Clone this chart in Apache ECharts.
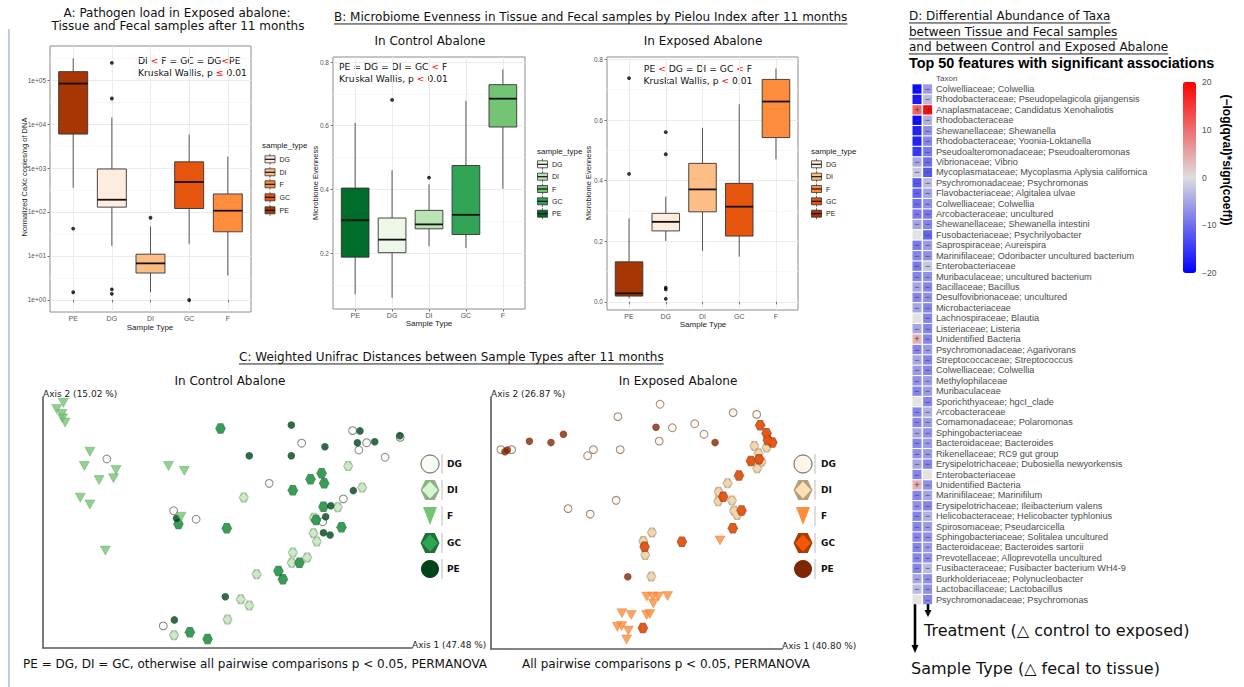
<!DOCTYPE html>
<html>
<head>
<meta charset="utf-8">
<title>Abalone pathogen load, microbiome evenness, Unifrac and differential abundance</title>
<script src="https://cdn.jsdelivr.net/npm/echarts@6/dist/echarts.min.js"></script>
<style>
  html, body { margin: 0; padding: 0; background: #ffffff; }
  #chart { width: 1244px; height: 687px; }
</style>
</head>
<body>
<div id="chart"></div>
<script>
// ---------- categories ----------
const sampleTypes = ['PE', 'DG', 'DI', 'GC', 'F'];
const legendOrder = ['DG', 'DI', 'F', 'GC', 'PE'];

// ---------- A: pathogen load (CaXc copies / ng DNA) ----------
// five-number summaries per sample type: [low whisker, Q1, median, Q3, high whisker]
const pathogenBoxes = [
  [355, 5900, 83000, 155000, 309000],  // PE
  [17, 129, 190, 950, 14000],          // DG
  [1.5, 4.1, 6.8, 11, 47],             // DI
  [18.6, 120, 480, 1380, 5750],        // GC
  [3.6, 35.5, 107, 257, 1820]          // F
];
const pathogenOutliers = [['PE', 42], ['PE', 1.5], ['DG', 245000], ['DG', 38000], ['DG', 1.75], ['DG', 1.38], ['DI', 74], ['GC', 1.0]];
const pathogenTicks = [1, 10, 100, 1000, 10000, 100000];
const pathogenTickLabels = ['1e+00', '1e+01', '1e+02', '1e+03', '1e+04', '1e+05'];

// ---------- B: Pielou evenness ----------
const evenControlBoxes = [
  [0.070, 0.187, 0.303, 0.404, 0.609],  // PE
  [0.059, 0.201, 0.242, 0.310, 0.460],  // DG
  [0.221, 0.276, 0.290, 0.334, 0.416],  // DI
  [0.216, 0.258, 0.320, 0.475, 0.678],  // GC
  [0.402, 0.596, 0.685, 0.729, 0.777]   // F
];
const evenControlOutliers = [['DG', 0.681], ['DI', 0.437]];
const evenExposedBoxes = [
  [0.012, 0.019, 0.028, 0.132, 0.275],  // PE
  [0.201, 0.234, 0.264, 0.292, 0.347],  // DG
  [0.168, 0.297, 0.371, 0.457, 0.574],  // DI
  [0.149, 0.217, 0.314, 0.391, 0.652],  // GC
  [0.470, 0.542, 0.661, 0.734, 0.770]   // F
];
const evenExposedOutliers = [['PE', 0.738], ['PE', 0.422], ['DG', 0.560], ['DG', 0.487], ['DG', 0.047], ['DG', 0.041], ['DG', 0.010]];
const evenTicksControl = [0.2, 0.4, 0.6, 0.8];
const evenTicksExposed = [0.0, 0.2, 0.4, 0.6, 0.8];

// ---------- C: weighted Unifrac PCoA (axis units scaled 0-100) ----------
const controlDG = [[17.3,75.3],[70.1,81.6],[61.3,65.6],[35.4,54.7],[41.5,51.3],[83.9,86.6],[87.7,81.8],[85.6,78.9],[92.7,76.0],[96.8,83.9],[81.4,59.4],[75.8,50.3],[32.6,8.8]];
const controlDI = [[82.7,72.5],[86.5,63.9],[54.4,60.0],[79.9,56.1],[73.4,51.9],[73.3,45.7],[74.2,42.4],[67.7,38.0],[71.6,36.1],[67.4,34.0],[57.9,29.4],[53.6,19.4],[55.9,16.9],[50.0,11.4],[35.5,5.1]];
const controlF  = [[3.7,95.2],[5.5,97.7],[5.1,93.2],[5.3,91.5],[6.0,89.8],[12.7,78.2],[11.2,72.5],[19.8,70.9],[15.2,66.9],[19.1,67.6],[10.1,59.9],[12.7,57.2],[16.9,38.8],[34.0,72.5],[38.3,70.6],[37.4,52.3]];
const controlGC = [[48.1,87.5],[75.5,69.6],[72.5,67.2],[76.2,65.6],[67.7,62.8],[76.0,56.3],[49.8,47.7],[36.7,49.4],[80.9,48.1],[74.0,51.0],[69.5,34.0],[63.8,30.7],[65.0,27.4],[39.8,6.3],[44.6,3.6]];
const controlPE = [[67.3,88.8],[55.9,76.6],[67.3,76.6],[76.4,80.2],[85.9,86.5],[85.2,81.8],[89.9,82.2],[96.7,84.6],[84.1,62.7],[78.0,56.7],[76.6,52.3],[76.0,45.9],[77.8,45.0],[36.2,51.7],[49.4,20.4],[35.6,11.2]];

const exposedDG = [[58.1,97.1],[83.2,93.8],[91.3,93.1],[43.6,92.2],[62.3,87.8],[70.0,89.4],[73.2,85.2],[57.8,82.5],[35.2,79.1],[33.2,76.7],[44.4,79.1],[3.4,79.1],[7.1,79.1],[43.0,59.0],[26.5,55.7],[34.1,53.5]];
const exposedDI = [[90.5,80.6],[91.9,77.7],[94.7,80.0],[93.0,74.3],[91.5,71.7],[81.3,65.8],[78.2,62.4],[78.1,58.6],[82.8,58.9],[83.5,54.9],[84.6,53.2],[55.3,46.2],[52.3,42.9],[53.0,37.3],[55.1,28.8]];
const exposedF  = [[78.7,43.1],[53.5,20.8],[55.6,20.8],[57.5,20.8],[60.7,21.0],[55.8,18.1],[45.0,14.2],[48.2,13.5],[53.5,13.5],[54.6,13.9],[43.4,8.8],[44.9,9.1],[47.2,7.3],[46.6,3.8]];
const exposedGC = [[92.5,88.8],[94.7,85.6],[95.1,82.9],[96.7,81.9],[89.3,74.6],[92.1,75.3],[85.2,68.8],[79.8,60.4],[86.1,55.0],[83.1,47.9],[65.6,42.6],[52.8,40.6],[52.2,8.3]];
const exposedPE = [[4.8,78.3],[5.6,79.0],[13.2,82.4],[20.6,81.9],[24.9,85.2],[56.7,88.0],[77.0,81.9],[47.0,28.7]];

// ---------- D: MaAsLin-style associations, -log(qval)*sign(coeff) ----------
const taxa = [
  'Colwelliaceae; Colwellia',
  'Rhodobacteraceae; Pseudopelagicola gijangensis',
  'Anaplasmataceae; Candidatus Xenohaliotis',
  'Rhodobacteraceae',
  'Shewanellaceae; Shewanella',
  'Rhodobacteraceae; Yoonia-Loktanella',
  'Pseudoalteromonadaceae; Pseudoalteromonas',
  'Vibrionaceae; Vibrio',
  'Mycoplasmataceae; Mycoplasma Aplysia californica',
  'Psychromonadaceae; Psychromonas',
  'Flavobacteriaceae; Algitalea ulvae',
  'Colwelliaceae; Colwellia',
  'Arcobacteraceae; uncultured',
  'Shewanellaceae; Shewanella intestini',
  'Fusobacteriaceae; Psychrilyobacter',
  'Saprospiraceae; Aureispira',
  'Marinifilaceae; Odoribacter uncultured bacterium',
  'Enterobacteriaceae',
  'Muribaculaceae; uncultured bacterium',
  'Bacillaceae; Bacillus',
  'Desulfovibrionaceae; uncultured',
  'Microbacteriaceae',
  'Lachnospiraceae; Blautia',
  'Listeriaceae; Listeria',
  'Unidentified Bacteria',
  'Psychromonadaceae; Agarivorans',
  'Streptococcaceae; Streptococcus',
  'Colwelliaceae; Colwellia',
  'Methylophilaceae',
  'Muribaculaceae',
  'Sporichthyaceae; hgcI_clade',
  'Arcobacteraceae',
  'Comamonadaceae; Polaromonas',
  'Sphingobacteriaceae',
  'Bacteroidaceae; Bacteroides',
  'Rikenellaceae; RC9 gut group',
  'Erysipelotrichaceae; Dubosiella newyorkensis',
  'Enterobacteriaceae',
  'Unidentified Bacteria',
  'Marinifilaceae; Marinifilum',
  'Erysipelotrichaceae; Ileibacterium valens',
  'Helicobacteraceae; Helicobacter typhlonius',
  'Spirosomaceae; Pseudarcicella',
  'Sphingobacteriaceae; Solitalea uncultured',
  'Bacteroidaceae; Bacteroides sartorii',
  'Prevotellaceae; Alloprevotella uncultured',
  'Fusibacteraceae; Fusibacter bacterium WH4-9',
  'Burkholderiaceae; Polynucleobacter',
  'Lactobacillaceae; Lactobacillus',
  'Psychromonadaceae; Psychromonas'
];
const effectColumns = ['Sample Type', 'Treatment'];
// null = not significant for that factor
const sampleTypeEffect = [-19, -18, 11, -19, -17, -17, -15, -5, -2, -12, -11, -10, -9, -5, null, -9, -8, -9, -8, -5,
  -8, -5, null, -5, 4, -8, -5, -6, -7, -8, null, -8, -8, -5, -8, -7, -5, -8, 4, -8,
  -7, -8, -8, -8, -8, -8, -8, -5, -3, null];
const treatmentEffect = [-6, -3, 19, -4, -7, -8, -9, -10, -12, -3, -5, -7, -9, -8, -11, -6, -7, -2, -7, -8,
  -7, -8, -8, -8, -8, -6, -8, -8, -6, -6, -8, -4, -6, -7, -6, -6, -8, null, -7, -5,
  -8, -4, -6, -7, -6, -7, -3, -7, -7, -8];
const colorbarTicks = [-20, -10, 0, 10, 20];

// ---------- palettes ----------
const oranges = { DG: '#FEEDDE', DI: '#FDBE85', F: '#FD8D3C', GC: '#E6550D', PE: '#A63603' };
const greens  = { DG: '#EDF8E9', DI: '#BAE4B3', F: '#74C476', GC: '#31A354', PE: '#006D2C' };
const pcoaGreens = { DG: '#F7FCF5', DGline: '#6a6a6a', DIouter: '#8FAE8A', DIinner: '#D6F5D0', F: '#74C476', Fline: '#5a9e5c',
  GCouter: '#1D7236', GCinner: '#31A354', PE: '#00441B' };
const pcoaOranges = { DG: '#FFF5EB', DGline: '#7e6e5e', DIouter: '#B69E7C', DIinner: '#FDE0B4', F: '#FD8D3C', Fline: '#e07a2c',
  GCouter: '#A83A06', GCinner: '#F2570C', PE: '#7F2704' };

const SANS = 'DejaVu Sans';
const ARIAL = 'Liberation Sans';

// ---------- helpers ----------
const measureCtx = document.createElement('canvas').getContext('2d');
function textWidth(text, font) { measureCtx.font = font; return measureCtx.measureText(text).width; }

function label(x, y, text, size, extra) {
  const style = Object.assign({
    text: text, fill: '#111', fontSize: size, fontFamily: SANS,
    align: 'left', verticalAlign: 'middle'
  }, extra || {});
  style.textAlign = style.align;
  style.textVerticalAlign = style.verticalAlign;
  return { type: 'text', x: x, y: y, silent: true, style: style };
}
function underlined(x, y, text, size) {
  const w = textWidth(text, size + 'px "' + SANS + '"');
  const uy = y + size * 0.58;
  return [label(x, y, text, size),
    { type: 'line', silent: true, shape: { x1: x, y1: uy, x2: x + w, y2: uy }, style: { stroke: '#222', lineWidth: 1 } }];
}
function hexPoints(cx, cy, w, h) {
  return [[cx - w / 2, cy], [cx - w / 4, cy - h / 2], [cx + w / 4, cy - h / 2], [cx + w / 2, cy], [cx + w / 4, cy + h / 2], [cx - w / 4, cy + h / 2]];
}
function diamondPoints(cx, cy, w, h) {
  return [[cx, cy - h / 2], [cx + w / 2, cy], [cx, cy + h / 2], [cx - w / 2, cy]];
}

// ---------- layout ----------
const grids = [];
const xAxes = [];
const yAxes = [];
const series = [];
const graphics = [];

// box-plot panels (A, B control, B exposed)
const boxPanels = [
  { rect: { left: 50, top: 46, width: 201, height: 266 }, yMin: -0.273, yMax: 5.773,
    major: pathogenTicks.map(Math.log10), minor: [0.5, 1.5, 2.5, 3.5, 4.5, 5.5],
    fmt: v => pathogenTickLabels[Math.round(v)], boxes: pathogenBoxes, outliers: pathogenOutliers,
    tf: Math.log10, palette: oranges },
  { rect: { left: 333, top: 57, width: 192, height: 252 }, yMin: 0.024, yMax: 0.816,
    major: evenTicksControl, minor: [0.1, 0.3, 0.5, 0.7],
    fmt: v => v.toFixed(1), boxes: evenControlBoxes, outliers: evenControlOutliers,
    tf: v => v, palette: greens },
  { rect: { left: 607, top: 57, width: 191, height: 253 }, yMin: -0.027, yMax: 0.808,
    major: evenTicksExposed, minor: [0.1, 0.3, 0.5, 0.7],
    fmt: v => v.toFixed(1), boxes: evenExposedBoxes, outliers: evenExposedOutliers,
    tf: v => v, palette: oranges }
];

const catPositions = sampleTypes.map((s, i) => i + 1);

boxPanels.forEach((p, k) => {
  const g = grids.length;
  grids.push(Object.assign({ show: true, backgroundColor: '#ffffff', borderColor: '#8c8c8c', borderWidth: 1 }, p.rect));
  const xi = xAxes.length;
  xAxes.push({
    type: 'value', gridIndex: g, min: 0.4, max: 5.6,
    axisLine: { show: false },
    axisTick: { show: true, length: 2.5, customValues: catPositions, lineStyle: { color: '#555', width: 0.8 } },
    axisLabel: { customValues: catPositions, formatter: v => sampleTypes[Math.round(v) - 1], fontSize: 7, color: '#555', fontFamily: ARIAL, margin: 3 },
    splitLine: { show: true, lineStyle: { color: '#EBEBEB', width: 1 } }
  });
  yAxes.push({
    type: 'value', gridIndex: g, min: p.yMin, max: p.yMax, position: 'left',
    axisLine: { show: false }, axisLabel: { show: false },
    axisTick: { show: false, customValues: p.minor },
    splitLine: { show: true, lineStyle: { color: '#F5F5F5', width: 0.7 } }
  });
  const yi = yAxes.length;
  yAxes.push({
    type: 'value', gridIndex: g, min: p.yMin, max: p.yMax, position: 'left',
    axisLine: { show: false },
    axisTick: { show: true, length: 2.5, customValues: p.major, lineStyle: { color: '#555', width: 0.8 } },
    axisLabel: { customValues: p.major, formatter: p.fmt, fontSize: 6.5, color: '#555', fontFamily: ARIAL, margin: 4 },
    splitLine: { show: true, lineStyle: { color: '#EBEBEB', width: 1 } }
  });
  const pal = p.palette;
  series.push({
    type: 'custom', xAxisIndex: xi, yAxisIndex: yi, silent: true, z: 3,
    encode: { x: 0, y: [1, 2, 3, 4, 5] },
    data: p.boxes.map((b, i) => [i + 1].concat(b.map(p.tf))),
    renderItem: function (params, api) {
      const x = api.value(0);
      const pts = [1, 2, 3, 4, 5].map(d => api.coord([x, api.value(d)]));
      const cx = pts[0][0];
      const half = api.size([0.75, 0])[0] / 2;
      const fill = pal[sampleTypes[params.dataIndex]];
      return {
        type: 'group', children: [
          { type: 'line', shape: { x1: cx, y1: pts[0][1], x2: cx, y2: pts[1][1] }, style: { stroke: '#444', lineWidth: 0.9 } },
          { type: 'line', shape: { x1: cx, y1: pts[3][1], x2: cx, y2: pts[4][1] }, style: { stroke: '#444', lineWidth: 0.9 } },
          { type: 'rect', shape: { x: cx - half, y: pts[3][1], width: 2 * half, height: pts[1][1] - pts[3][1] },
            style: { fill: fill, stroke: '#333', lineWidth: 0.9 } },
          { type: 'line', shape: { x1: cx - half, y1: pts[2][1], x2: cx + half, y2: pts[2][1] }, style: { stroke: '#111', lineWidth: 1.8 } }
        ]
      };
    }
  });
  series.push({
    type: 'scatter', xAxisIndex: xi, yAxisIndex: yi, silent: true, z: 4,
    symbol: 'circle', symbolSize: 3.8, itemStyle: { color: '#000' },
    data: p.outliers.map(o => [sampleTypes.indexOf(o[0]) + 1, p.tf(o[1])])
  });
});

// PCoA panels
const pcoaPanels = [
  { rect: { left: 43, top: 397, width: 369, height: 251 }, pal: pcoaGreens,
    sets: { DG: controlDG, DI: controlDI, F: controlF, GC: controlGC, PE: controlPE } },
  { rect: { left: 491, top: 397, width: 291, height: 252 }, pal: pcoaOranges,
    sets: { DG: exposedDG, DI: exposedDI, F: exposedF, GC: exposedGC, PE: exposedPE } }
];
const hexSymbol = 'path://M-1,0L-0.5,-1L0.5,-1L1,0L0.5,1L-0.5,1Z';

pcoaPanels.forEach(p => {
  const g = grids.length;
  grids.push(p.rect);
  const xi = xAxes.length;
  xAxes.push({ type: 'value', gridIndex: g, min: 0, max: 100,
    axisLine: { show: true, onZero: false, lineStyle: { color: '#5a5a5a', width: 1.6 } },
    axisTick: { show: false }, axisLabel: { show: false }, splitLine: { show: false } });
  const yi = yAxes.length;
  yAxes.push({ type: 'value', gridIndex: g, min: 0, max: 100,
    axisLine: { show: true, onZero: false, lineStyle: { color: '#5a5a5a', width: 1.6 } },
    axisTick: { show: false }, axisLabel: { show: false }, splitLine: { show: false } });
  const pal = p.pal;
  const base = { type: 'scatter', xAxisIndex: xi, yAxisIndex: yi, silent: true };
  series.push(Object.assign({}, base, { data: p.sets.DG, symbol: 'circle', symbolSize: 7.8,
    itemStyle: { color: pal.DG, borderColor: pal.DGline, borderWidth: 1 } }));
  series.push(Object.assign({}, base, { data: p.sets.DI, symbol: hexSymbol, symbolSize: [10, 10],
    itemStyle: { color: pal.DIouter } }));
  series.push(Object.assign({}, base, { data: p.sets.DI, symbol: 'diamond', symbolSize: [8.6, 9],
    itemStyle: { color: pal.DIinner } }));
  series.push(Object.assign({}, base, { data: p.sets.GC, symbol: hexSymbol, symbolSize: [10.5, 10.5],
    itemStyle: { color: pal.GCouter } }));
  series.push(Object.assign({}, base, { data: p.sets.GC, symbol: 'diamond', symbolSize: [9, 9.5],
    itemStyle: { color: pal.GCinner } }));
  series.push(Object.assign({}, base, { data: p.sets.PE, symbol: 'circle', symbolSize: 7.5,
    itemStyle: { color: pal.PE } }));
  series.push(Object.assign({}, base, { data: p.sets.F, symbol: 'triangle', symbolRotate: 180, symbolSize: [10, 9],
    itemStyle: { color: pal.F, borderColor: pal.Fline, borderWidth: 0.5 } }));
});

// heatmap panel
const gHeat = grids.length;
grids.push({ left: 911.7, top: 83.8, width: 21.2, height: 521 });
const xHeat = xAxes.length;
xAxes.push({ type: 'category', gridIndex: gHeat, data: effectColumns, show: false });
const yHeat = yAxes.length;
yAxes.push({
  type: 'category', gridIndex: gHeat, data: taxa, inverse: true, position: 'right',
  axisLine: { show: false }, axisTick: { show: false }, splitLine: { show: false },
  axisLabel: { interval: 0, fontSize: 9.2, color: '#4D4D4D', fontFamily: ARIAL, margin: 3 }
});
const heatData = [];
taxa.forEach((t, i) => {
  heatData.push([0, i, sampleTypeEffect[i]]);
  heatData.push([1, i, treatmentEffect[i]]);
});
const heatIndex = series.length;
series.push({
  type: 'custom', xAxisIndex: xHeat, yAxisIndex: yHeat, silent: true,
  encode: { x: 0, y: 1 },
  dimensions: ['factor', 'taxon', 'score'],
  data: heatData,
  renderItem: function (params, api) {
    const c = api.coord([api.value(0), api.value(1)]);
    const band = api.size([1, 1]);
    const w = band[0] - 1.6, h = band[1] - 1.1;
    const v = api.value(2);
    const missing = (v === null || v === undefined || isNaN(v));
    const fill = missing ? '#E3E3E3' : api.visual('color');
    const children = [{ type: 'rect', shape: { x: c[0] - w / 2, y: c[1] - h / 2, width: w, height: h }, style: { fill: fill } }];
    if (!missing) {
      children.push({ type: 'text', style: { text: v < 0 ? '−' : '+', x: c[0], y: c[1], align: 'center', verticalAlign: 'middle',
        textAlign: 'center', textVerticalAlign: 'middle', fill: '#444', fontSize: 9, fontFamily: ARIAL } });
    }
    return { type: 'group', children: children };
  }
});

// colour bar scale
const gBar = grids.length;
grids.push({ left: 1183, top: 82, width: 13, height: 191 });
xAxes.push({ type: 'value', gridIndex: gBar, show: false, min: 0, max: 1 });
yAxes.push({
  type: 'value', gridIndex: gBar, min: colorbarTicks[0], max: colorbarTicks[colorbarTicks.length - 1], interval: 10,
  position: 'right', axisLine: { show: false }, axisTick: { show: false }, splitLine: { show: false },
  axisLabel: { fontSize: 8.5, color: '#4D4D4D', fontFamily: ARIAL, margin: 6,
    formatter: v => (v < 0 ? '−' + (-v) : String(v)) }
});

// ---------- text and legends ----------
graphics.push({ type: 'line', silent: true, shape: { x1: 9, y1: 29, x2: 9, y2: 687 }, style: { stroke: '#AEBBD0', lineWidth: 1.5 } });

// panel A
graphics.push(label(177, 13, 'A: Pathogen load in Exposed abalone:', 12, { align: 'center' }));
graphics.push(label(178, 26, 'Tissue and Fecal samples after 11 months', 12, { align: 'center' }));
const richRed = { r: { fill: '#FF0000', color: '#FF0000', fontSize: 9.2, fontFamily: SANS } };
graphics.push(label(136, 54, 'DI {r|<} F = GC = DG{r|<}PE\nKruskal Wallis, p {r|≤} 0.01', 9.2,
  { verticalAlign: 'top', lineHeight: 11.5, backgroundColor: '#fff', padding: [1, 2], rich: richRed }));
const yTitleA = label(24, 177, 'Normalized CaXc copies/ng of DNA', 7.5, { align: 'center', fontFamily: ARIAL, fill: '#222' });
yTitleA.rotation = Math.PI / 2;
graphics.push(yTitleA);
graphics.push(label(150, 327, 'Sample Type', 8, { align: 'center', fontFamily: ARIAL, fill: '#222' }));

// panel B
underlined(334, 17, 'B: Microbiome Evenness in Tissue and Fecal samples by Pielou Index after 11 months', 12).forEach(e => graphics.push(e));
graphics.push(label(430, 41, 'In Control Abalone', 12, { align: 'center' }));
graphics.push(label(703, 41, 'In Exposed Abalone', 12, { align: 'center' }));
graphics.push(label(337, 59.5, 'PE = DG = DI = GC {r|<} F\nKruskal Wallis, p {r|<} 0.01', 9.2,
  { verticalAlign: 'top', lineHeight: 12, backgroundColor: '#fff', padding: [1, 2], rich: richRed }));
graphics.push(label(698, 61.5, 'PE {r|<} DG = DI = GC {r|<} F\nKruskal Wallis, p {r|<} 0.01', 9.2,
  { align: 'center', verticalAlign: 'top', lineHeight: 12, backgroundColor: '#fff', padding: [1, 2], rich: richRed }));
[[315, 183], [588, 183]].forEach(pt => {
  const t = label(pt[0], pt[1], 'Microbiome Evenness', 7.5, { align: 'center', fontFamily: ARIAL, fill: '#222' });
  t.rotation = Math.PI / 2;
  graphics.push(t);
});
graphics.push(label(429, 323.5, 'Sample Type', 8, { align: 'center', fontFamily: ARIAL, fill: '#222' }));
graphics.push(label(703, 324, 'Sample Type', 8, { align: 'center', fontFamily: ARIAL, fill: '#222' }));

// box-plot legends
function boxLegend(titleX, titleY, keyX, rows, pal) {
  graphics.push(label(titleX, titleY, 'sample_type', 8, { fontFamily: ARIAL, fill: '#222' }));
  legendOrder.forEach((s, i) => {
    const y = rows[i];
    graphics.push({ type: 'line', silent: true, shape: { x1: keyX, y1: y - 5.5, x2: keyX, y2: y + 5.5 }, style: { stroke: '#444', lineWidth: 0.8 } });
    graphics.push({ type: 'rect', silent: true, shape: { x: keyX - 5, y: y - 3.5, width: 10, height: 7 }, style: { fill: pal[s], stroke: '#333', lineWidth: 0.8 } });
    graphics.push({ type: 'line', silent: true, shape: { x1: keyX - 5, y1: y, x2: keyX + 5, y2: y }, style: { stroke: '#111', lineWidth: 1.2 } });
    graphics.push(label(keyX + 9.5, y, s, 7, { fontFamily: ARIAL, fill: '#222' }));
  });
}
boxLegend(262, 145, 270, [159.3, 172.3, 184.3, 197.3, 210.3], oranges);
boxLegend(537, 151, 542.5, [164.3, 176.7, 189, 201.3, 213.7], greens);
boxLegend(811, 151, 816.5, [164.3, 176.7, 189, 201.3, 213.7], oranges);

// panel C
underlined(239, 357, 'C: Weighted Unifrac Distances between Sample Types after 11 months', 12).forEach(e => graphics.push(e));
graphics.push(label(230, 381, 'In Control Abalone', 12, { align: 'center' }));
graphics.push(label(678, 381, 'In Exposed Abalone', 12, { align: 'center' }));
graphics.push(label(43, 394, 'Axis 2 (15.02 %)', 9, { fill: '#222' }));
graphics.push(label(412, 644.5, 'Axis 1 (47.48 %)', 9, { fill: '#222' }));
graphics.push(label(491, 394, 'Axis 2 (26.87 %)', 9, { fill: '#222' }));
graphics.push(label(782, 645.5, 'Axis 1 (40.80 %)', 9, { fill: '#222' }));
graphics.push(label(23, 664, 'PE = DG, DI = GC, otherwise all pairwise comparisons p < 0.05, PERMANOVA', 12));
graphics.push(label(522, 664, 'All pairwise comparisons p < 0.05, PERMANOVA', 12));

function pcoaLegend(cx, sepX, labelX, rows, pal) {
  graphics.push({ type: 'circle', silent: true, shape: { cx: cx, cy: rows[0], r: 9 }, style: { fill: pal.DG, stroke: '#555', lineWidth: 1 } });
  graphics.push({ type: 'polygon', silent: true, shape: { points: hexPoints(cx, rows[1], 19, 20) }, style: { fill: pal.DIouter } });
  graphics.push({ type: 'polygon', silent: true, shape: { points: diamondPoints(cx, rows[1], 16, 17) }, style: { fill: pal.DIinner } });
  graphics.push({ type: 'polygon', silent: true, shape: { points: [[cx - 7, rows[2] - 9], [cx + 7, rows[2] - 9], [cx, rows[2] + 9]] }, style: { fill: pal.F } });
  graphics.push({ type: 'polygon', silent: true, shape: { points: hexPoints(cx, rows[3], 19, 20) }, style: { fill: pal.GCouter } });
  graphics.push({ type: 'polygon', silent: true, shape: { points: diamondPoints(cx, rows[3], 16, 17) }, style: { fill: pal.GCinner } });
  graphics.push({ type: 'circle', silent: true, shape: { cx: cx, cy: rows[4], r: 9 }, style: { fill: pal.PE } });
  legendOrder.forEach((s, i) => {
    graphics.push({ type: 'line', silent: true, shape: { x1: sepX, y1: rows[i] - 10, x2: sepX, y2: rows[i] + 10 }, style: { stroke: '#aaa', lineWidth: 0.8 } });
    graphics.push(label(labelX, rows[i], s, 9, { fontWeight: 'bold', fill: '#111' }));
  });
}
const pcoaRows = [464, 490, 516, 543, 569];
pcoaLegend(430, 442, 447, pcoaRows, pcoaGreens);
pcoaLegend(803, 815, 821, pcoaRows, pcoaOranges);

// panel D
underlined(909, 16, 'D: Differential Abundance of Taxa', 12).forEach(e => graphics.push(e));
underlined(909, 32, 'between Tissue and Fecal samples', 12).forEach(e => graphics.push(e));
underlined(909, 47, 'and between Control and Exposed Abalone', 12).forEach(e => graphics.push(e));
graphics.push(label(909, 63, 'Top 50 features with significant associations', 14.4, { fontFamily: ARIAL, fontWeight: 'bold', fill: '#000' }));
graphics.push(label(936, 78, 'Taxon', 8, { fontFamily: ARIAL, fill: '#4D4D4D' }));
const cbTitle = label(1227, 160, '(−log(qval)*sign(coeff))', 12, { align: 'center', fontFamily: ARIAL, fontWeight: 'bold', fill: '#000' });
cbTitle.rotation = -Math.PI / 2;
graphics.push(cbTitle);

// arrows to the two effect columns
graphics.push({ type: 'line', silent: true, shape: { x1: 915, y1: 603, x2: 915, y2: 646 }, style: { stroke: '#000', lineWidth: 2.6 } });
graphics.push({ type: 'polygon', silent: true, shape: { points: [[911.5, 645], [918.5, 645], [915, 653]] }, style: { fill: '#000' } });
graphics.push({ type: 'line', silent: true, shape: { x1: 928, y1: 602, x2: 928, y2: 611 }, style: { stroke: '#000', lineWidth: 2.6 } });
graphics.push({ type: 'polygon', silent: true, shape: { points: [[924.5, 610], [931.5, 610], [928, 617]] }, style: { fill: '#000' } });
graphics.push(label(924, 630, 'Treatment (△ control to exposed)', 16));
graphics.push(label(911, 668, 'Sample Type (△ fecal to tissue)', 16));

// ---------- chart ----------
const chart = echarts.init(document.getElementById('chart'), null, { renderer: 'svg', width: 1244, height: 687 });
chart.setOption({
  backgroundColor: '#ffffff',
  animation: false,
  textStyle: { fontFamily: SANS },
  grid: grids,
  xAxis: xAxes,
  yAxis: yAxes,
  visualMap: [{
    type: 'continuous', seriesIndex: heatIndex, dimension: 2, min: -20, max: 20,
    inRange: { color: ['#0000FF', '#DDDDDD', '#FF0000'] },
    calculable: false, hoverLink: false, realtime: false, orient: 'vertical',
    itemWidth: 13, itemHeight: 191, left: 1183, top: 82, padding: 0, showLabel: false
  }],
  series: series,
  graphic: { elements: graphics }
});
</script>
</body>
</html>
